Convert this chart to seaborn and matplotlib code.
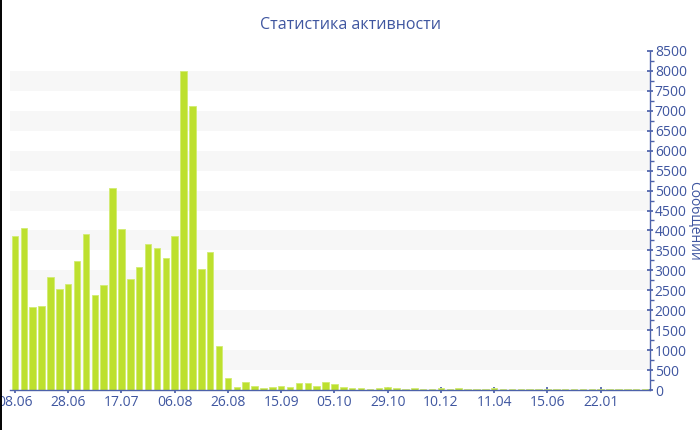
import matplotlib
matplotlib.use("Agg")
import matplotlib.pyplot as plt
from matplotlib.lines import Line2D
from matplotlib.ticker import MultipleLocator
import seaborn as sns
import pandas as pd
import numpy as np

title = "Статистика активности"
y_label = "Сообщений"

values = [
    3860, 4050, 2090, 2110, 2830, 2530, 2670, 3230, 3900, 2380,
    2630, 5070, 4030, 2780, 3080, 3660, 3570, 3310, 3850, 8000,
    7110, 3030, 3460, 1100, 290, 80, 205, 105, 50, 75,
    100, 85, 185, 175, 100, 190, 150, 85, 42, 50,
    33, 42, 75, 50, 33, 50, 33, 33, 55, 33,
    40, 33, 30, 30, 45, 30, 25, 25, 35, 25,
    25, 25, 22, 25, 25, 22, 25, 22, 22, 22,
    22, 22,
]
tick_labels = ["08.06", "28.06", "17.07", "06.08", "26.08", "15.09",
               "05.10", "29.10", "10.12", "11.04", "15.06", "22.01"]
tick_step = 6

bar_color = "#bde02e"
edge_color = "#d2ec72"
text_color = "#3f56a0"
axis_color = "#4d62aa"
stripe_color = "#f7f7f7"

sns.set_theme(style="white")
plt.rcParams["font.family"] = ["Open Sans", "DejaVu Sans"]

df = pd.DataFrame({"idx": np.arange(len(values)), "value": values})

fig = plt.figure(figsize=(7, 4.3), dpi=100)
ax = fig.add_axes([10 / 700, 1 - 390 / 430, 640 / 700, (390 - 51) / 430])

ymax = 8500
for lo in range(500, ymax, 1000):
    ax.axhspan(lo, lo + 500, color=stripe_color, zorder=0, lw=0)

sns.barplot(data=df, x="idx", y="value", color=bar_color, width=0.74,
            edgecolor=edge_color, linewidth=0.6, saturation=1, ax=ax, zorder=2)

ax.set_xlim(-0.56, len(values) - 0.44)
ax.set_ylim(0, ymax)
ax.set_xticks(np.arange(0, len(values), tick_step))
ax.set_xticklabels(tick_labels)

ax.yaxis.tick_right()
ax.yaxis.set_label_position("right")
ax.yaxis.set_major_locator(MultipleLocator(500))
ax.yaxis.set_minor_locator(MultipleLocator(250))
ax.set_ylabel(y_label, color=text_color, fontsize=10, rotation=270, labelpad=10)
ax.set_xlabel("")

for s in ["top", "left"]:
    ax.spines[s].set_visible(False)
ax.spines["right"].set_color(axis_color)
ax.spines["bottom"].set_color(axis_color)
ax.spines["right"].set_linewidth(1)
ax.spines["bottom"].set_linewidth(1)

ax.tick_params(axis="y", which="major", right=True, length=5, color=axis_color,
               labelcolor=text_color, labelsize=10, pad=1, direction="inout")
ax.tick_params(axis="y", which="minor", right=True, length=3, color=axis_color,
               direction="out")
ax.tick_params(axis="x", which="major", bottom=True, length=5, color=axis_color,
               labelcolor=text_color, labelsize=10, pad=1, direction="inout")

fig.text(350 / 700, 1 - 25 / 430, title, ha="center", va="center",
         color=text_color, fontsize=11.5)

fig.add_artist(Line2D([0.7 / 700, 0.7 / 700], [0, 1], color="black", lw=1.4,
                      transform=fig.transFigure))

fig.savefig("out.png", dpi=100)
